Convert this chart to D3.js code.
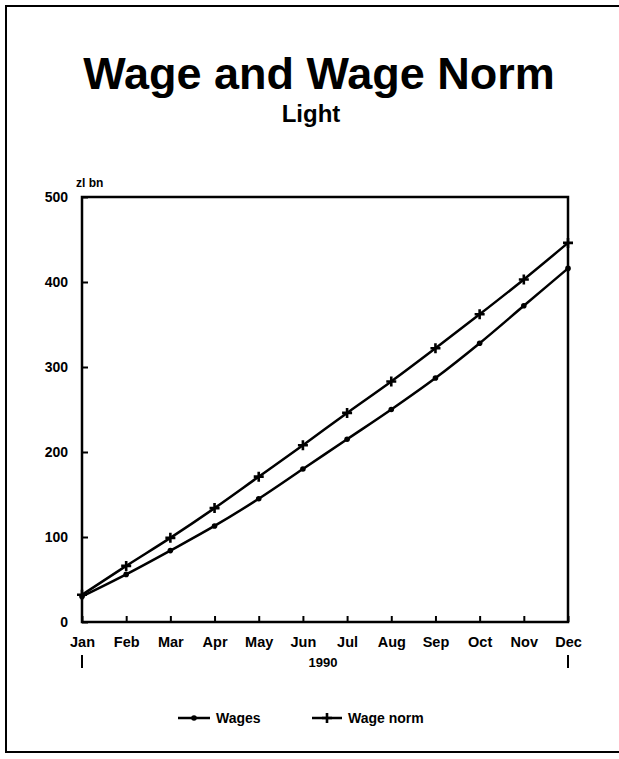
<!DOCTYPE html>
<html><head><meta charset="utf-8">
<script src="https://cdn.jsdelivr.net/npm/d3@7"></script>
<style>body{margin:0;background:#fff}text{font-family:"Liberation Sans",Arial,sans-serif}</style>
</head><body><svg id="c" width="619" height="759"></svg>
<script>
const months = ["Jan","Feb","Mar","Apr","May","Jun","Jul","Aug","Sep","Oct","Nov","Dec"];
const wages = [30, 56, 84, 113, 145, 180, 215, 250, 287, 328, 372, 416];
const wageNorm = [32, 66, 99, 134, 171, 208, 246, 283, 322, 362, 403, 446];
const yTicks = [0, 100, 200, 300, 400, 500];

const svg = d3.select("#c");
const m = {l: 82, r: 568, t: 197, b: 622};
const x = d3.scalePoint().domain(months).range([m.l, m.r]);
const y = d3.scaleLinear().domain([0, 500]).range([m.b, m.t]);

// outer frame
svg.append("rect").attr("x", 6).attr("y", 6).attr("width", 640).attr("height", 746)
  .attr("fill", "none").attr("stroke", "#000").attr("stroke-width", 2);

svg.append("text").attr("x", 319).attr("y", 89).attr("text-anchor", "middle")
  .attr("font-size", 45).attr("font-weight", "bold").text("Wage and Wage Norm");
svg.append("text").attr("x", 311).attr("y", 122).attr("text-anchor", "middle")
  .attr("font-size", 24).attr("font-weight", "bold").text("Light");
svg.append("text").attr("x", 76).attr("y", 187).attr("font-size", 12).attr("font-weight", "bold").text("zl bn");

// plot box
svg.append("rect").attr("x", m.l).attr("y", m.t).attr("width", m.r - m.l).attr("height", m.b - m.t)
  .attr("fill", "none").attr("stroke", "#000").attr("stroke-width", 2.5);

// y axis
const ya = svg.append("g").attr("transform", `translate(${m.l},0)`)
  .call(d3.axisLeft(y).tickValues(yTicks).tickSize(-6).tickPadding(14));
ya.select(".domain").remove();
ya.selectAll("line").attr("stroke-width", 2);
ya.selectAll("text").attr("font-size", 14).attr("font-weight", "bold").attr("font-family", "Liberation Sans, Arial, sans-serif");

// x axis
const xa = svg.append("g").attr("transform", `translate(0,${m.b})`)
  .call(d3.axisBottom(x).tickSize(-6).tickPadding(15));
xa.select(".domain").remove();
xa.selectAll("line").attr("stroke-width", 2);
xa.selectAll("text").attr("font-size", 14.5).attr("font-weight", "bold").attr("font-family", "Liberation Sans, Arial, sans-serif");

svg.append("text").attr("x", 323).attr("y", 667).attr("text-anchor", "middle")
  .attr("font-size", 13).attr("font-weight", "bold").text("1990");
[months[0], months[months.length - 1]].forEach(mo => {
  svg.append("line").attr("x1", x(mo)).attr("x2", x(mo)).attr("y1", 655).attr("y2", 668)
    .attr("stroke", "#000").attr("stroke-width", 2);
});

const line = d3.line().x((d, i) => x(months[i])).y(d => y(d)).curve(d3.curveMonotoneX);
svg.append("path").datum(wages).attr("d", line).attr("fill", "none").attr("stroke", "#000").attr("stroke-width", 2.5);
svg.append("path").datum(wageNorm).attr("d", line).attr("fill", "none").attr("stroke", "#000").attr("stroke-width", 2.5);

svg.selectAll(".dot").data(wages).enter().append("circle")
  .attr("cx", (d, i) => x(months[i])).attr("cy", d => y(d)).attr("r", 2.8).attr("fill", "#000");
const plus = "M-5,0H5M0,-5V5";
svg.selectAll(".plus").data(wageNorm).enter().append("path")
  .attr("d", plus).attr("transform", (d, i) => `translate(${x(months[i])},${y(d)})`)
  .attr("fill", "none").attr("stroke", "#000").attr("stroke-width", 2.6);

// legend
const lg = svg.append("g");
lg.append("line").attr("x1", 178).attr("x2", 210).attr("y1", 718).attr("y2", 718).attr("stroke", "#000").attr("stroke-width", 2.5);
lg.append("circle").attr("cx", 194).attr("cy", 718).attr("r", 2.8).attr("fill", "#000");
lg.append("text").attr("x", 216).attr("y", 723).attr("font-size", 14).attr("font-weight", "bold").text("Wages");
lg.append("line").attr("x1", 312).attr("x2", 342).attr("y1", 718).attr("y2", 718).attr("stroke", "#000").attr("stroke-width", 2.5);
lg.append("path").attr("d", plus).attr("transform", "translate(327,718)").attr("fill", "none").attr("stroke", "#000").attr("stroke-width", 2.6);
lg.append("text").attr("x", 348).attr("y", 723).attr("font-size", 14).attr("font-weight", "bold").text("Wage norm");
</script></body></html>
